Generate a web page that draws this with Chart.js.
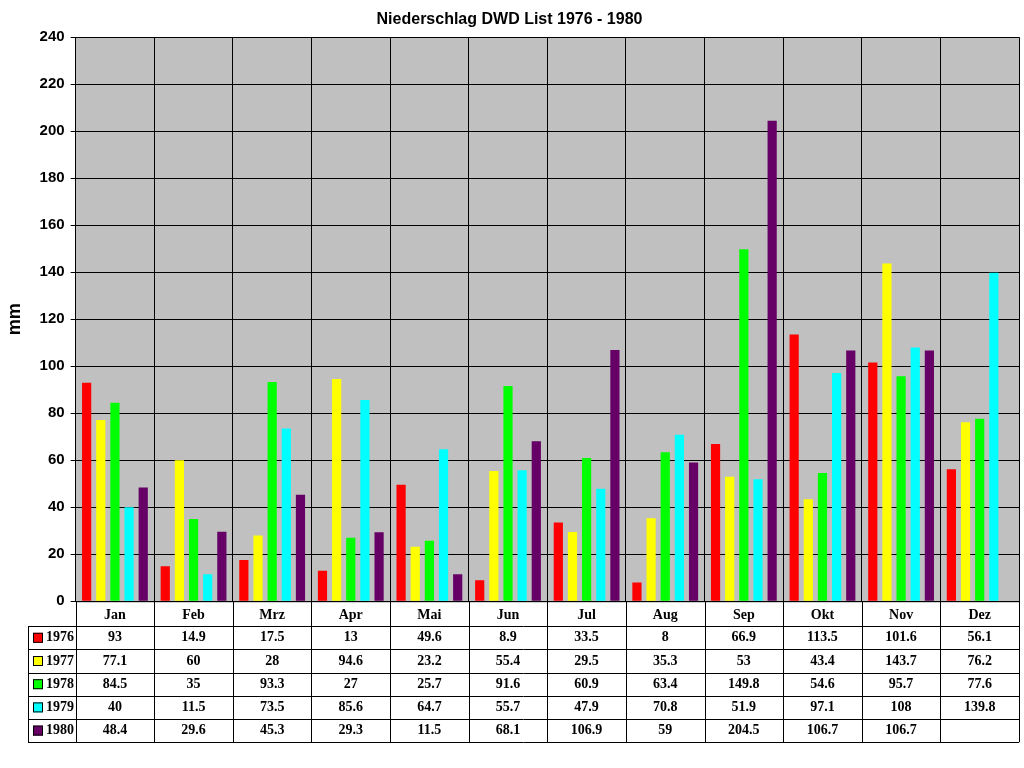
<!DOCTYPE html>
<html>
<head>
<meta charset="utf-8">
<script src="https://cdn.jsdelivr.net/npm/chart.js@4"></script>
<style>
  body { margin: 0; background: #fff; }
  #wrap { width: 1024px; height: 768px; }
</style>
</head>
<body>
<div id="wrap"><canvas id="c" width="1024" height="768"></canvas></div>
<script>
const months = ['Jan', 'Feb', 'Mrz', 'Apr', 'Mai', 'Jun', 'Jul', 'Aug', 'Sep', 'Okt', 'Nov', 'Dez'];
const years = ['1976', '1977', '1978', '1979', '1980'];
const colors = ['#FF0000', '#FFFF00', '#00FF00', '#00FFFF', '#660066'];

const rain1976 = [93, 14.9, 17.5, 13, 49.6, 8.9, 33.5, 8, 66.9, 113.5, 101.6, 56.1];
const rain1977 = [77.1, 60, 28, 94.6, 23.2, 55.4, 29.5, 35.3, 53, 43.4, 143.7, 76.2];
const rain1978 = [84.5, 35, 93.3, 27, 25.7, 91.6, 60.9, 63.4, 149.8, 54.6, 95.7, 77.6];
const rain1979 = [40, 11.5, 73.5, 85.6, 64.7, 55.7, 47.9, 70.8, 51.9, 97.1, 108, 139.8];
const rain1980 = [48.4, 29.6, 45.3, 29.3, 11.5, 68.1, 106.9, 59, 204.5, 106.7, 106.7, null];

const series = [rain1976, rain1977, rain1978, rain1979, rain1980];

const tablePlugin = {
  id: 'table',
  beforeDraw(chart) {
    const { ctx, chartArea: a } = chart;
    ctx.save();
    ctx.fillStyle = '#C0C0C0';
    ctx.fillRect(a.left, a.top, a.right - a.left, a.bottom - a.top);
    ctx.restore();
  },
  afterDraw(chart) {
    const { ctx, chartArea: a, scales } = chart;
    const x = scales.x;
    const step = (a.right - a.left) / months.length;
    const top = a.bottom;
    const headH = 25;
    const rowH = 23.2;
    const tableLeft = 28;
    const bottom = top + headH + rowH * years.length;
    ctx.save();
    ctx.strokeStyle = '#000';
    ctx.lineWidth = 1;
    ctx.beginPath();
    // vertical lines
    for (let i = 0; i <= months.length; i++) {
      const xx = Math.round(a.left + i * step) + 0.5;
      ctx.moveTo(xx, top); ctx.lineTo(xx, bottom);
    }
    ctx.moveTo(tableLeft + 0.5, top + headH); ctx.lineTo(tableLeft + 0.5, bottom);
    // horizontal lines
    for (let r = 0; r <= years.length; r++) {
      const yy = Math.round(top + headH + r * rowH) + 0.5;
      ctx.moveTo(tableLeft, yy); ctx.lineTo(a.right, yy);
    }
    ctx.moveTo(a.left, top + 0.5); ctx.lineTo(a.right, top + 0.5);
    ctx.stroke();

    ctx.font = 'bold 14px "Liberation Serif"';
    ctx.textBaseline = 'middle';
    years.forEach((yr, r) => {
      const cy = top + headH + r * rowH + rowH / 2;
      ctx.fillStyle = colors[r];
      ctx.fillRect(tableLeft + 5, cy - 5, 10, 10);
      ctx.strokeRect(tableLeft + 5.5, cy - 4.5, 9, 9);
      ctx.fillStyle = '#000';
      ctx.textAlign = 'left';
      ctx.fillText(yr, tableLeft + 18, cy);
      ctx.textAlign = 'center';
      series[r].forEach((v, i) => {
        if (v === null) return;
        ctx.fillText(String(v), x.getPixelForValue(i), cy);
      });
    });
    ctx.restore();
  }
};

new Chart(document.getElementById('c'), {
  type: 'bar',
  data: {
    labels: months,
    datasets: years.map((yr, k) => ({
      label: yr,
      data: series[k],
      backgroundColor: colors[k],
      borderWidth: 0,
    })),
  },
  options: {
    responsive: false,
    animation: false,
    layout: { padding: { top: 0, bottom: 138, left: 0, right: 5 } },
    plugins: {
      legend: { display: false },
      tooltip: { enabled: false },
      title: {
        display: true,
        text: 'Niederschlag DWD List 1976 - 1980',
        color: '#000',
        font: { size: 16, weight: 'bold', family: '"Liberation Sans", Arial' },
        padding: { top: 10, bottom: 8 },
      },
    },
    datasets: { bar: { categoryPercentage: 0.9, barPercentage: 0.65 } },
    scales: {
      x: {
        grid: { color: '#000', drawTicks: false, offset: true },
        border: { color: '#000' },
        ticks: { color: '#000', padding: 6, font: { size: 14, weight: 'bold', family: '"Liberation Serif"' } },
      },
      y: {
        min: 0, max: 240,
        ticks: { stepSize: 20, color: '#000', padding: 6, font: { size: 15, weight: 'bold', family: '"Liberation Sans", Arial' } },
        grid: { color: '#000', tickLength: 5 },
        border: { color: '#000' },
        title: { display: true, text: 'mm', color: '#000', padding: { bottom: 8 }, font: { size: 18, weight: 'bold', family: '"Liberation Sans", Arial' } },
      },
    },
  },
  plugins: [tablePlugin],
});
</script>
</body>
</html>
